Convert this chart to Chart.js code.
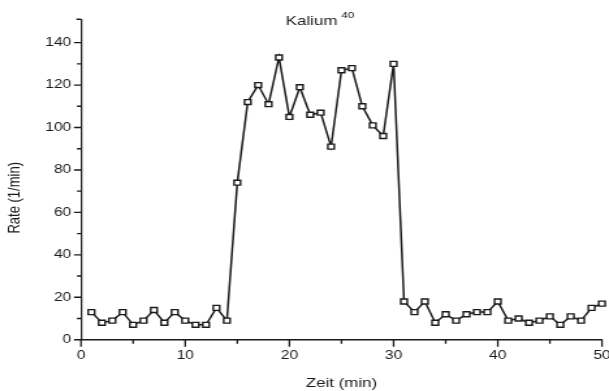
<!DOCTYPE html>
<html>
<head>
<meta charset="utf-8">
<script src="https://cdn.jsdelivr.net/npm/chart.js@4/dist/chart.umd.min.js"></script>
<style>
  html, body { margin: 0; padding: 0; background: #ffffff; overflow: hidden; }
  #c { display: block; }
</style>
</head>
<body>
<canvas id="c" width="468" height="391" style="width:609px;height:391px"></canvas>
<script>
// Count rate of a K-40 sample per minute
const minutes = [1, 2, 3, 4, 5, 6, 7, 8, 9, 10,
                 11, 12, 13, 14, 15, 16, 17, 18, 19, 20,
                 21, 22, 23, 24, 25, 26, 27, 28, 29, 30,
                 31, 32, 33, 34, 35, 36, 37, 38, 39, 40,
                 41, 42, 43, 44, 45, 46, 47, 48, 49, 50];
const rates = [13, 8, 9, 13, 7, 9, 14, 8, 13, 9,
               7, 7, 15, 9, 74, 112, 120, 111, 133, 105,
               119, 106, 107, 91, 127, 128, 110, 101, 96, 130,
               18, 13, 18, 8, 12, 9, 12, 13, 13, 18,
               9, 10, 8, 9, 11, 7, 11, 9, 15, 17];

const xMajorTicks = [0, 10, 20, 30, 40, 50];
const xMinorTicks = [5, 15, 25, 35, 45];
const yMajorTicks = [0, 20, 40, 60, 80, 100, 120, 140];
const yMinorTicks = [10, 30, 50, 70, 90, 110, 130];

const titleMain = 'Kalium';
const titleSup = '40';
const xTitle = 'Zeit (min)';
const yTitle = 'Rate (1/min)';

const FONT = '"Liberation Sans", Arial, sans-serif';
const INK = '#1a1a1a';

// Tick marks, chart heading and the rotated y-axis title
const axisDecor = {
  id: 'axisDecor',
  afterDraw(chart) {
    const { ctx, scales: { x, y } } = chart;
    const x0 = x.left, y0 = y.bottom;
    ctx.save();
    ctx.strokeStyle = INK;
    ctx.lineWidth = 1.3;
    ctx.beginPath();
    xMajorTicks.forEach(v => { const px = x.getPixelForValue(v); ctx.moveTo(px, y0); ctx.lineTo(px, y0 + 7); });
    xMinorTicks.forEach(v => { const px = x.getPixelForValue(v); ctx.moveTo(px, y0); ctx.lineTo(px, y0 + 4); });
    ctx.stroke();
    ctx.lineWidth = 1.4;
    ctx.beginPath();
    yMajorTicks.forEach(v => { const py = y.getPixelForValue(v); ctx.moveTo(x0, py); ctx.lineTo(x0 - 5.4, py); });
    yMinorTicks.forEach(v => { const py = y.getPixelForValue(v); ctx.moveTo(x0, py); ctx.lineTo(x0 - 3.1, py); });
    const pTop = y.getPixelForValue(y.max);
    ctx.moveTo(x0, pTop); ctx.lineTo(x0 - 3.5, pTop);
    ctx.stroke();

    ctx.fillStyle = INK;
    ctx.textAlign = 'left';
    ctx.textBaseline = 'alphabetic';
    ctx.font = '13px ' + FONT;
    ctx.fillText(titleMain, 219.5, 25);
    const w = ctx.measureText(titleMain).width;
    ctx.font = '9px ' + FONT;
    ctx.fillText(titleSup, 219.5 + w + 3, 17.5);

    ctx.translate(11.8, 197.8);
    ctx.rotate(-Math.PI / 2);
    ctx.textAlign = 'center';
    ctx.textBaseline = 'middle';
    ctx.font = '13px ' + FONT;
    ctx.fillText(yTitle, 0, 0);
    ctx.restore();
  }
};

new Chart(document.getElementById('c'), {
  type: 'line',
  data: {
    datasets: [{
      data: minutes.map((m, i) => ({ x: m, y: rates[i] })),
      borderColor: INK,
      borderWidth: 1.5,
      pointStyle: 'rect',
      pointRadius: 3.5,
      pointBorderWidth: 1.4,
      pointBorderColor: INK,
      pointBackgroundColor: '#ffffff',
      tension: 0,
      clip: false
    }]
  },
  options: {
    responsive: false,
    devicePixelRatio: 1,
    animation: false,
    layout: { padding: { top: 19.3, right: 4.6, bottom: 0, left: 0 } },
    plugins: { legend: { display: false }, title: { display: false }, tooltip: { enabled: false } },
    scales: {
      x: {
        type: 'linear',
        min: 0,
        max: 50,
        afterBuildTicks: s => { s.ticks = xMajorTicks.map(v => ({ value: v })); },
        afterFit: s => { s.height = 51.3; s.paddingLeft = 0; s.paddingRight = 0; },
        grid: { display: false, drawTicks: false },
        border: { display: true, color: INK, width: 1.5 },
        ticks: { autoSkip: false, maxRotation: 0, padding: 9, color: INK, font: { family: FONT, size: 12 } },
        title: { display: true, text: xTitle, color: INK, padding: { top: 0, bottom: 0 }, font: { family: FONT, size: 13 } }
      },
      y: {
        type: 'linear',
        min: 0,
        max: 151,
        afterBuildTicks: s => { s.ticks = yMajorTicks.map(v => ({ value: v })); },
        afterFit: s => { s.width = 62.25; s.paddingTop = 0; s.paddingBottom = 0; },
        grid: { display: false, drawTicks: false },
        border: { display: true, color: INK, width: 1.25 },
        ticks: { padding: 7.5, color: INK, font: { family: FONT, size: 12 } }
      }
    }
  },
  plugins: [axisDecor]
});
</script>
</body>
</html>
